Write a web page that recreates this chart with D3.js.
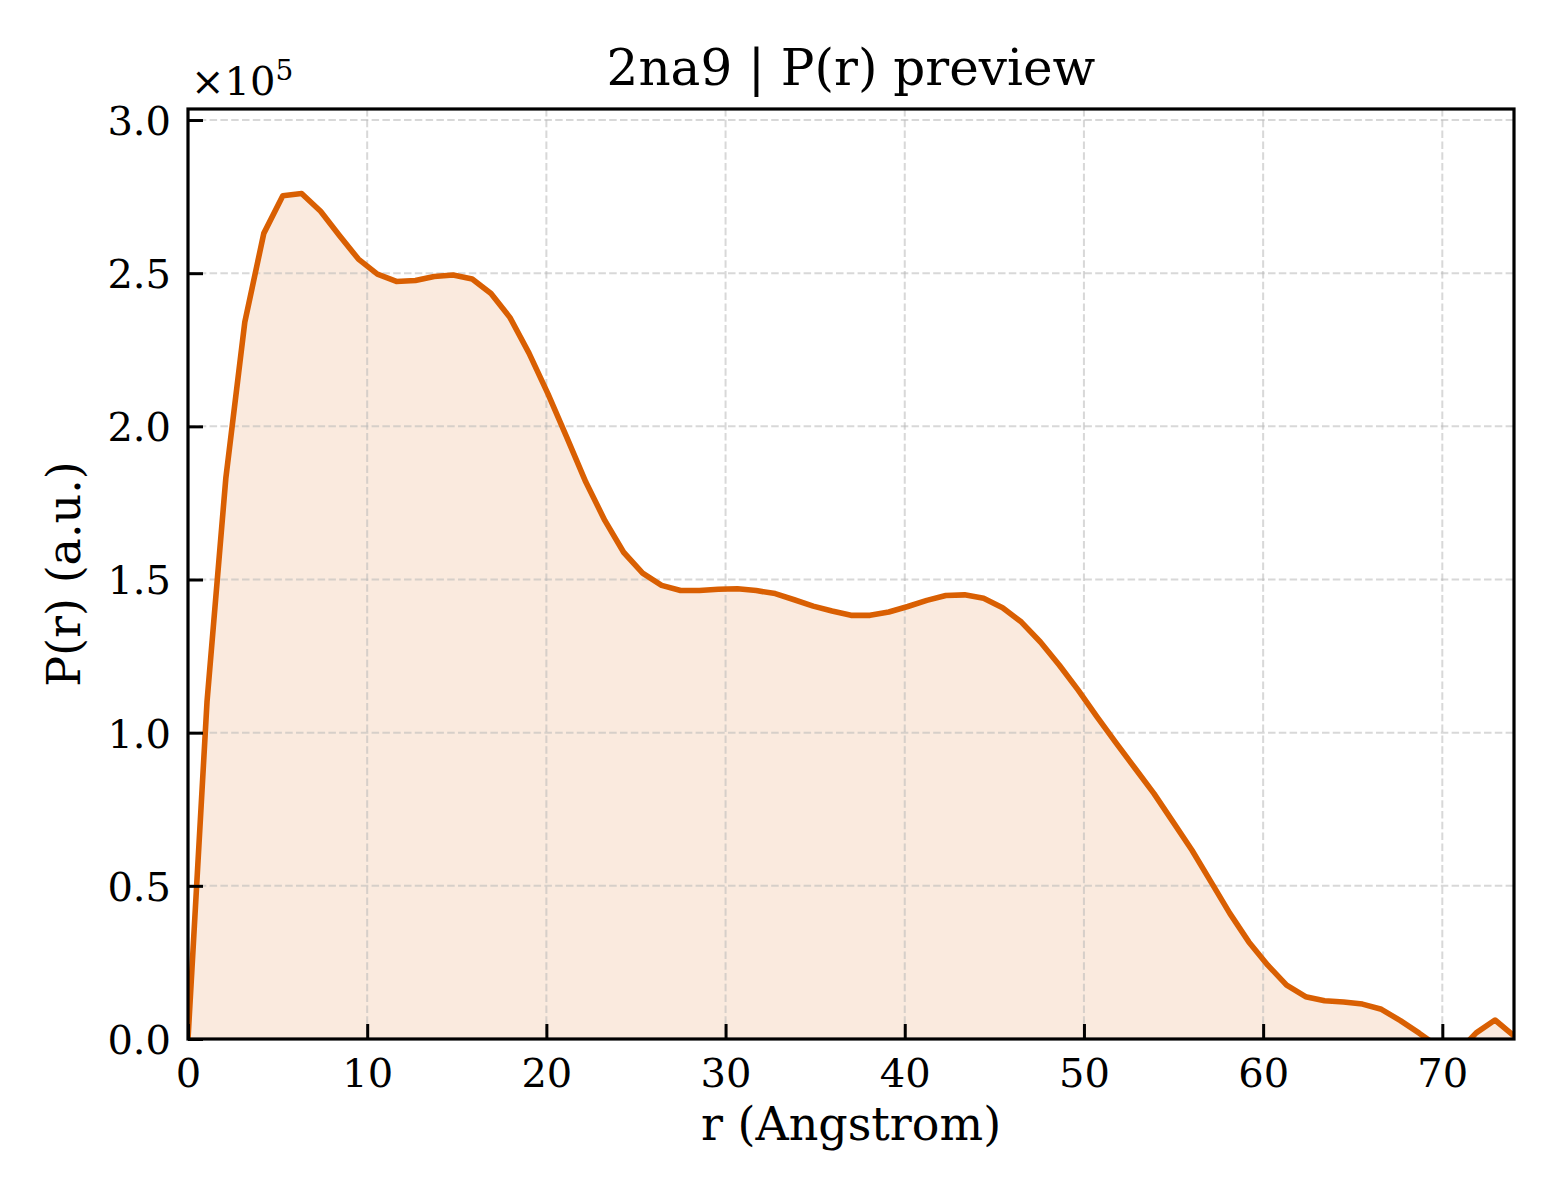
<!DOCTYPE html>
<html>
<head>
<meta charset="utf-8">
<script src="https://cdn.jsdelivr.net/npm/d3@7"></script>
<style>
  body { margin: 0; background: #fff; }
  svg text { font-family: "DejaVu Serif", serif; fill: #000; }
</style>
</head>
<body>
<svg id="pr" width="1560" height="1200"></svg>
<script>
// DATA
const title = "2na9 | P(r) preview";
const xLabel = "r (Angstrom)";
const yLabel = "P(r) (a.u.)";

// r grid (Angstrom)
const rValues = [
    0.00, 1.06, 2.11, 3.17, 4.23, 5.29, 6.34, 7.40, 8.46, 9.51,
    10.57, 11.63, 12.69, 13.74, 14.80, 15.86, 16.91, 17.97, 19.03, 20.09,
    21.14, 22.20, 23.26, 24.31, 25.37, 26.43, 27.49, 28.54, 29.60, 30.66,
    31.71, 32.77, 33.83, 34.89, 35.94, 37.00, 38.06, 39.11, 40.17, 41.23,
    42.29, 43.34, 44.40, 45.46, 46.51, 47.57, 48.63, 49.69, 50.74, 51.80,
    52.86, 53.91, 54.97, 56.03, 57.09, 58.14, 59.20, 60.26, 61.31, 62.37,
    63.43, 64.49, 65.54, 66.60, 67.66, 68.71, 69.77, 70.83, 71.89, 72.94,
    74.00
];

// P(r), arbitrary units
const pValues = [
    0, 1.10e5, 1.83e5, 2.34e5, 2.63e5, 2.753e5, 2.760e5, 2.702e5, 2.622e5, 2.546e5,
    2.497e5, 2.473e5, 2.476e5, 2.489e5, 2.494e5, 2.481e5, 2.434e5, 2.355e5, 2.239e5, 2.106e5,
    1.964e5, 1.818e5, 1.693e5, 1.589e5, 1.521e5, 1.481e5, 1.464e5, 1.464e5, 1.468e5, 1.470e5,
    1.464e5, 1.454e5, 1.434e5, 1.413e5, 1.397e5, 1.383e5, 1.383e5, 1.394e5, 1.412e5, 1.432e5,
    1.448e5, 1.450e5, 1.439e5, 1.408e5, 1.361e5, 1.296e5, 1.220e5, 1.138e5, 1.051e5, 0.966e5,
    0.883e5, 0.801e5, 0.709e5, 0.616e5, 0.513e5, 0.410e5, 0.317e5, 0.241e5, 0.176e5, 0.138e5,
    0.125e5, 0.121e5, 0.114e5, 0.097e5, 0.060e5, 0.019e5, -0.025e5, -0.045e5, 0.020e5, 0.062e5,
    0.010e5
];

const xTicks = [0, 10, 20, 30, 40, 50, 60, 70];
const yTicks = [0, 0.5e5, 1.0e5, 1.5e5, 2.0e5, 2.5e5, 3.0e5];
const yExponent = 5;

const data = rValues.map((r, i) => ({ r: r, p: pValues[i] }));

const width = 1560, height = 1200;
const margin = { top: 109, right: 46, bottom: 161, left: 188 };
const color = "#d95f02";

const svg = d3.select("svg#pr");

// SCALES
const xScale = d3.scaleLinear()
    .domain([0, d3.max(rValues)])
    .range([margin.left, width - margin.right]);

const yScale = d3.scaleLinear()
    .domain([0, 1.1 * d3.max(pValues)])
    .range([height - margin.bottom, margin.top]);

const plotW = width - margin.left - margin.right;
const plotH = height - margin.top - margin.bottom;

svg.append("defs").append("clipPath")
    .attr("id", "plotclip")
    .append("rect")
    .attr("x", margin.left)
    .attr("y", margin.top)
    .attr("width", plotW)
    .attr("height", plotH);

// FILL
const area = d3.area()
    .x(d => xScale(d.r))
    .y0(yScale(0))
    .y1(d => yScale(d.p));

svg.append("path")
    .datum(data)
    .attr("clip-path", "url(#plotclip)")
    .attr("fill", color)
    .attr("fill-opacity", 0.13)
    .attr("d", area);

// GRID
const grid = svg.append("g")
    .attr("stroke", "#b8b8b8")
    .attr("stroke-opacity", 0.55)
    .attr("stroke-width", 2)
    .attr("stroke-dasharray", "7.5,3.3");

grid.selectAll("line.gx")
    .data(xTicks)
    .join("line")
    .attr("class", "gx")
    .attr("x1", d => xScale(d)).attr("x2", d => xScale(d))
    .attr("y1", margin.top).attr("y2", height - margin.bottom);

grid.selectAll("line.gy")
    .data(yTicks)
    .join("line")
    .attr("class", "gy")
    .attr("x1", margin.left).attr("x2", width - margin.right)
    .attr("y1", d => yScale(d)).attr("y2", d => yScale(d));

// LINE
const line = d3.line()
    .x(d => xScale(d.r))
    .y(d => yScale(d.p));

svg.append("path")
    .datum(data)
    .attr("clip-path", "url(#plotclip)")
    .attr("fill", "none")
    .attr("stroke", color)
    .attr("stroke-width", 5.6)
    .attr("stroke-linejoin", "round")
    .attr("d", line);

// AXES (ticks point inward)
const xAxis = g => g
    .attr("transform", `translate(0,${height - margin.bottom})`)
    .call(d3.axisBottom(xScale)
        .tickValues(xTicks)
        .tickFormat(d3.format("d"))
        .tickSizeInner(-15)
        .tickSizeOuter(0)
        .tickPadding(17));

const yAxis = g => g
    .attr("transform", `translate(${margin.left},0)`)
    .call(d3.axisLeft(yScale)
        .tickValues(yTicks)
        .tickFormat(d => (d / Math.pow(10, yExponent)).toFixed(1))
        .tickSizeInner(-15)
        .tickSizeOuter(0)
        .tickPadding(17));

const gx = svg.append("g").call(xAxis);
const gy = svg.append("g").call(yAxis);

[gx, gy].forEach(g => {
    g.select(".domain").remove();
    g.selectAll(".tick line").attr("stroke", "#000").attr("stroke-width", 3);
    g.selectAll(".tick text")
        .attr("font-family", "DejaVu Serif")
        .attr("font-size", 40)
        .attr("fill", "#000");
});
gx.selectAll(".tick text").attr("dy", "0.78em");
gy.selectAll(".tick text").attr("dy", "0.36em");

// FRAME
svg.append("rect")
    .attr("x", margin.left)
    .attr("y", margin.top)
    .attr("width", plotW)
    .attr("height", plotH)
    .attr("fill", "none")
    .attr("stroke", "#000")
    .attr("stroke-width", 3.2);

// OFFSET TEXT
const offset = svg.append("text")
    .attr("x", margin.left + 3)
    .attr("y", 95)
    .attr("font-size", 40);
offset.append("tspan").text("\u00d710");
offset.append("tspan")
    .attr("font-size", 28)
    .attr("dy", -15)
    .text(yExponent);

// TITLE & LABELS
svg.append("text")
    .attr("x", margin.left + plotW / 2)
    .attr("y", 85)
    .attr("text-anchor", "middle")
    .attr("font-size", 50)
    .text(title);

svg.append("text")
    .attr("x", margin.left + plotW / 2)
    .attr("y", 1140)
    .attr("text-anchor", "middle")
    .attr("font-size", 46)
    .text(xLabel);

svg.append("text")
    .attr("transform", `translate(80,${margin.top + plotH / 2}) rotate(-90)`)
    .attr("text-anchor", "middle")
    .attr("font-size", 46)
    .text(yLabel);
</script>
</body>
</html>
